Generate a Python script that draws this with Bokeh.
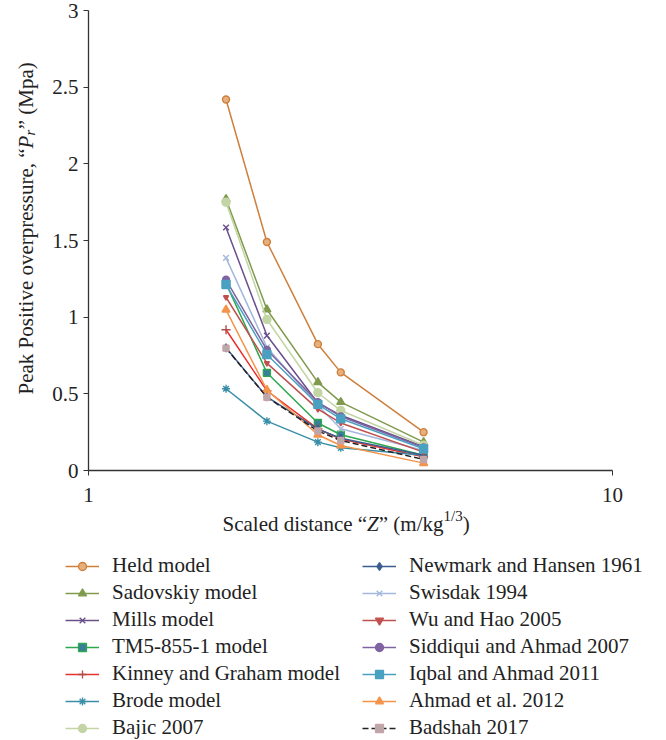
import math
from bokeh.plotting import figure
from bokeh.models import Legend, LegendItem, Label, FixedTicker
from bokeh.layouts import column, row
from bokeh.embed import file_html
from bokeh.resources import INLINE

# ---- data ----
z = [1.83, 2.19, 2.74, 3.03, 4.36]

held = [2.42, 1.49, 0.824, 0.64, 0.25]
sadovskiy = [1.77, 1.05, 0.575, 0.446, 0.185]
mills = [1.585, 0.88, 0.44, 0.36, 0.155]
tm5 = [1.22, 0.637, 0.31, 0.233, 0.10]
kinney = [0.918, 0.52, 0.272, 0.205, 0.09]
brode = [0.533, 0.322, 0.185, 0.148, 0.10]
bajic = [1.75, 0.985, 0.507, 0.391, 0.165]
newmark = [0.80, 0.48, 0.27, 0.21, 0.10]
swisdak = [1.387, 0.804, 0.424, 0.272, 0.13]
wuhao = [1.13, 0.70, 0.40, 0.31, 0.12]
siddiqui = [1.244, 0.787, 0.446, 0.352, 0.15]
iqbal = [1.213, 0.757, 0.431, 0.337, 0.142]
ahmad = [1.048, 0.525, 0.233, 0.163, 0.048]
badshah = [0.798, 0.478, 0.258, 0.196, 0.072]

names = ["Held model", "Sadovskiy model", "Mills model", "TM5-855-1 model",
         "Kinney and Graham model", "Brode model", "Bajic 2007",
         "Newmark and Hansen 1961", "Swisdak 1994", "Wu and Hao 2005",
         "Siddiqui and Ahmad 2007", "Iqbal and Ahmad 2011", "Ahmad et al. 2012",
         "Badshah 2017"]
values = [held, sadovskiy, mills, tm5, kinney, brode, bajic,
          newmark, swisdak, wuhao, siddiqui, iqbal, ahmad, badshah]

x_ticks = [1, 10]
x_tick_labels = ["1", "10"]
y_ticks = [0, 0.5, 1, 1.5, 2, 2.5, 3]
y_tick_labels = ["0", "0.5", "1", "1.5", "2", "2.5", "3"]

# ---- styles: (line colour, marker, marker size, marker line, marker fill, dash) ----
styles = [
    ("#cf7f3c", "circle", 7, "#cf7f3c", "#e6b07c", "solid"),
    ("#7f9a4c", "triangle", 8, "#7f9a4c", "#7f9a4c", "solid"),
    ("#6a4f8c", "x", 8, "#6a4f8c", "#6a4f8c", "solid"),
    ("#2ea84e", "square", 7, "#2ea84e", "#3a7f9a", "solid"),
    ("#e8302c", "cross", 9, "#b24a4a", "#b24a4a", "solid"),
    ("#3a8fa8", "asterisk", 8, "#3a8fa8", "#3a8fa8", "solid"),
    ("#c3d5a5", "circle", 8, "#c3d5a5", "#c3d5a5", "solid"),
    ("#3c5d8f", "diamond", 8, "#3c5d8f", "#3c5d8f", "solid"),
    ("#a4b7dc", "x", 8, "#a4b7dc", "#a4b7dc", "solid"),
    ("#c0504d", "inverted_triangle", 5, "#c0504d", "#c0504d", "solid"),
    ("#8064a2", "circle", 7, "#8064a2", "#8064a2", "solid"),
    ("#4aa0c0", "square", 8, "#4aa0c0", "#4aa0c0", "solid"),
    ("#f4934a", "triangle", 8, "#f4934a", "#f4934a", "solid"),
    ("#222222", "square", 6, "#c9a3a8", "#b8a8aa", "6 3"),
]

SERIF = "Liberation Serif"
TXT = "#222222"

TOP_H = 505
LEFT_W = 40

# ---- main chart ----
p = figure(width=626, height=TOP_H, x_axis_type="log", x_range=(1, 10), y_range=(0, 3),
           output_backend="svg", toolbar_location=None,
           min_border_left=48, min_border_right=54, min_border_top=10, min_border_bottom=35)
p.outline_line_color = None
p.xgrid.visible = False
p.ygrid.visible = False

for ax in (p.xaxis[0], p.yaxis[0]):
    ax.axis_line_color = "#333333"
    ax.axis_line_width = 1.3
    ax.major_tick_line_color = "#333333"
    ax.major_tick_in = 0
    ax.major_tick_out = 5
    ax.minor_tick_line_color = None
    ax.major_label_text_font = SERIF
    ax.major_label_text_font_size = "21px"
    ax.major_label_text_color = TXT
    ax.axis_label = None

p.xaxis[0].ticker = FixedTicker(ticks=x_ticks)
p.xaxis[0].major_label_overrides = {t: l for t, l in zip(x_ticks, x_tick_labels)}
p.xaxis[0].major_label_standoff = 12
p.yaxis[0].ticker = FixedTicker(ticks=y_ticks)
p.yaxis[0].major_label_overrides = {t: l for t, l in zip(y_ticks, y_tick_labels)}
p.yaxis[0].major_label_standoff = 5

for vals, st in zip(values, styles):
    lc, mk, ms, mlc, mfc, dash = st
    p.line(z, vals, line_color=lc, line_width=1.5, line_dash=dash)
    p.scatter(z, vals, marker=mk, size=ms, line_color=mlc, fill_color=mfc, line_width=1.4)


def blank(w, h, xr=(0, 1), yr=(0, 1)):
    f = figure(width=w, height=h, x_range=xr, y_range=yr, output_backend="svg",
               toolbar_location=None, x_axis_location=None, y_axis_location=None,
               min_border_left=0, min_border_right=0, min_border_top=0, min_border_bottom=0)
    f.outline_line_color = None
    f.xgrid.visible = False
    f.ygrid.visible = False
    return f


def lab(f, text, x, y, size="21px", style="normal", angle=0.0):
    f.add_layout(Label(x=x, y=y, x_units="screen", y_units="screen", text=text,
                       text_font=SERIF, text_font_size=size, text_font_style=style,
                       text_color=TXT, text_align="left", text_baseline="alphabetic",
                       angle=angle))


# ---- y-axis title (left strip) ----
pl = blank(LEFT_W, TOP_H)
yx = 25
y0 = 76
rot = math.pi / 2
lab(pl, "Peak Positive overpressure, \u201c", yx, y0, angle=rot)
lab(pl, "P", yx, y0 + 246.1, style="italic", angle=rot)
lab(pl, "r", yx + 4, y0 + 258.9, size="15px", style="italic", angle=rot)
lab(pl, "\u201d (Mpa)", yx, y0 + 265.3, angle=rot)

# ---- x-axis title and legend (bottom strip) ----
BOT_H = 235
# ranges chosen so the sample renderers (used only for legend glyphs) stay out of view
pb = blank(666, BOT_H, xr=(100, 200), yr=(100, 200))
xb = 217
x0 = 222
lab(pb, "Scaled distance \u201c", x0, xb)
lab(pb, "Z", x0 + 144.6, xb, style="italic")
lab(pb, "\u201d (m/kg", x0 + 156.3, xb)
lab(pb, "1/3", x0 + 221.0, xb + 8, size="15px")
lab(pb, ")", x0 + 240.2, xb)

items = []
for name, vals, st in zip(names, values, styles):
    lc, mk, ms, mlc, mfc, dash = st
    lr = pb.line(z, vals, line_color=lc, line_width=1.6, line_dash=dash)
    sr = pb.scatter(z, vals, marker=mk, size=ms - 1, line_color=mlc, fill_color=mfc, line_width=1.3)
    items.append(LegendItem(label=name, renderers=[lr, sr]))


def make_legend(its, loc):
    lg = Legend(items=its, location=loc, orientation="vertical")
    lg.label_text_font = SERIF
    lg.label_text_font_size = "21px"
    lg.label_text_color = TXT
    lg.glyph_width = 34
    lg.glyph_height = 20
    lg.label_height = 20
    lg.label_standoff = 13
    lg.spacing = 2
    lg.padding = 0
    lg.margin = 0
    lg.border_line_color = None
    lg.background_fill_alpha = 0
    return lg


pb.add_layout(make_legend(items[:7], (65, 0)))
pb.add_layout(make_legend(items[7:], (362, 0)))

layout = column(row(pl, p, spacing=0), pb, spacing=0)
open("out.html", "w").write(file_html(layout, INLINE))
